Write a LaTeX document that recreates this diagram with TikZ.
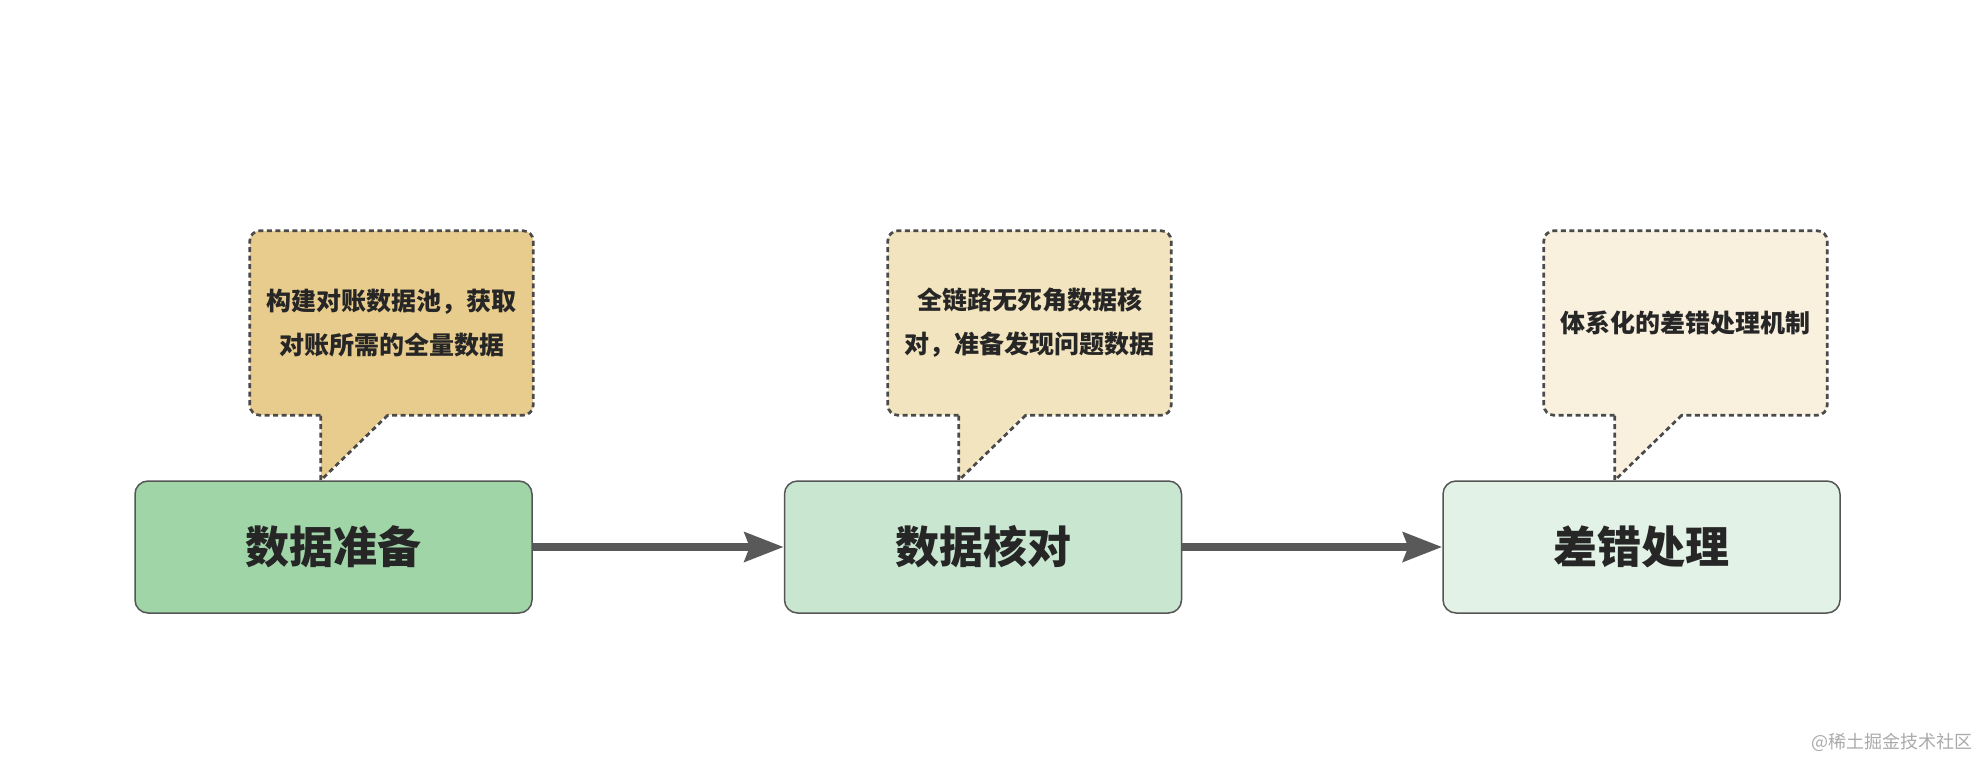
\documentclass[tikz,border=0pt]{standalone}
\usepackage{fontspec}
\setmainfont{Noto Sans CJK SC}
\usepackage{xcolor}
\usepackage{tikz}
\usetikzlibrary{arrows.meta,backgrounds,positioning}

\definecolor{stageA}{RGB}{160,213,168}
\definecolor{stageB}{RGB}{200,230,208}
\definecolor{stageC}{RGB}{226,242,230}
\definecolor{noteA}{RGB}{232,204,142}
\definecolor{noteB}{RGB}{242,228,190}
\definecolor{noteC}{RGB}{249,240,222}
\definecolor{edgegray}{RGB}{85,85,85}
\definecolor{dashgray}{RGB}{74,74,74}
\definecolor{arrowgray}{RGB}{89,89,89}
\definecolor{textdark}{RGB}{38,38,38}
\definecolor{markgray}{RGB}{170,170,170}

\begin{document}
\begin{tikzpicture}[x=1pt,y=-1pt,
    stage/.style={shape=rectangle, rounded corners=13pt, draw=edgegray, line width=1.5pt,
      minimum width=397pt, minimum height=132pt, text=textdark,
      font=\fontsize{44}{52}\selectfont\bfseries},
    note/.style={align=center, minimum width=283pt, minimum height=184pt, text=textdark,
      font=\fontsize{25}{44}\selectfont\bfseries},
    bubble/.style={draw=dashgray, line width=2.7pt, dash pattern=on 5pt off 3.5pt},
    flow/.style={draw=arrowgray, line width=8pt, -{Stealth[length=39pt,width=29pt,inset=5pt]}}]
    \useasboundingbox (0,0) rectangle (1983,757);

    % the three stages
    \node[stage, fill=stageA] (prep) at (333.5,547) {数据准备};
    \node[stage, fill=stageB] (check) at (983,547) {数据核对};
    \node[stage, fill=stageC] (fix) at (1641.5,547) {差错处理};

    \draw[flow] (prep) -- (check);
    \draw[flow] (check) -- (fix);

    % the notes above
    \node[note] (prepnote) at (391.5,323) {构建对账数据池，获取\\对账所需的全量数据};
    \node[note] (checknote) at (1029.5,323) {全链路无死角数据核\\对，准备发现问题数据};
    \node[note] (fixnote) at (1685.5,323) {体系化的差错处理机制};

    \coordinate (preptip) at ([xshift=71pt]prepnote.south west |- prep.north);
    \coordinate (checktip) at ([xshift=71pt]checknote.south west |- check.north);
    \coordinate (fixtip) at ([xshift=71pt]fixnote.south west |- fix.north);

    \begin{scope}[on background layer]
    \draw[bubble, fill=noteA, rounded corners=10pt] (prepnote.south west) rectangle (prepnote.north east);
    \fill[noteA] ([xshift=71pt,yshift=2pt]prepnote.south west) -- ([xshift=138pt,yshift=2pt]prepnote.south west) -- (preptip) -- cycle;
    \draw[bubble] ([xshift=138pt]prepnote.south west) -- (preptip) -- ([xshift=71pt]prepnote.south west);

    \draw[bubble, fill=noteB, rounded corners=10pt] (checknote.south west) rectangle (checknote.north east);
    \fill[noteB] ([xshift=71pt,yshift=2pt]checknote.south west) -- ([xshift=138pt,yshift=2pt]checknote.south west) -- (checktip) -- cycle;
    \draw[bubble] ([xshift=138pt]checknote.south west) -- (checktip) -- ([xshift=71pt]checknote.south west);

    \draw[bubble, fill=noteC, rounded corners=10pt] (fixnote.south west) rectangle (fixnote.north east);
    \fill[noteC] ([xshift=71pt,yshift=2pt]fixnote.south west) -- ([xshift=138pt,yshift=2pt]fixnote.south west) -- (fixtip) -- cycle;
    \draw[bubble] ([xshift=138pt]fixnote.south west) -- (fixtip) -- ([xshift=71pt]fixnote.south west);
    \end{scope}

    \node[anchor=east, text=markgray, font=\fontsize{18}{20}\selectfont] (mark) at (1976,742) {@稀土掘金技术社区};
\end{tikzpicture}
\end{document}
